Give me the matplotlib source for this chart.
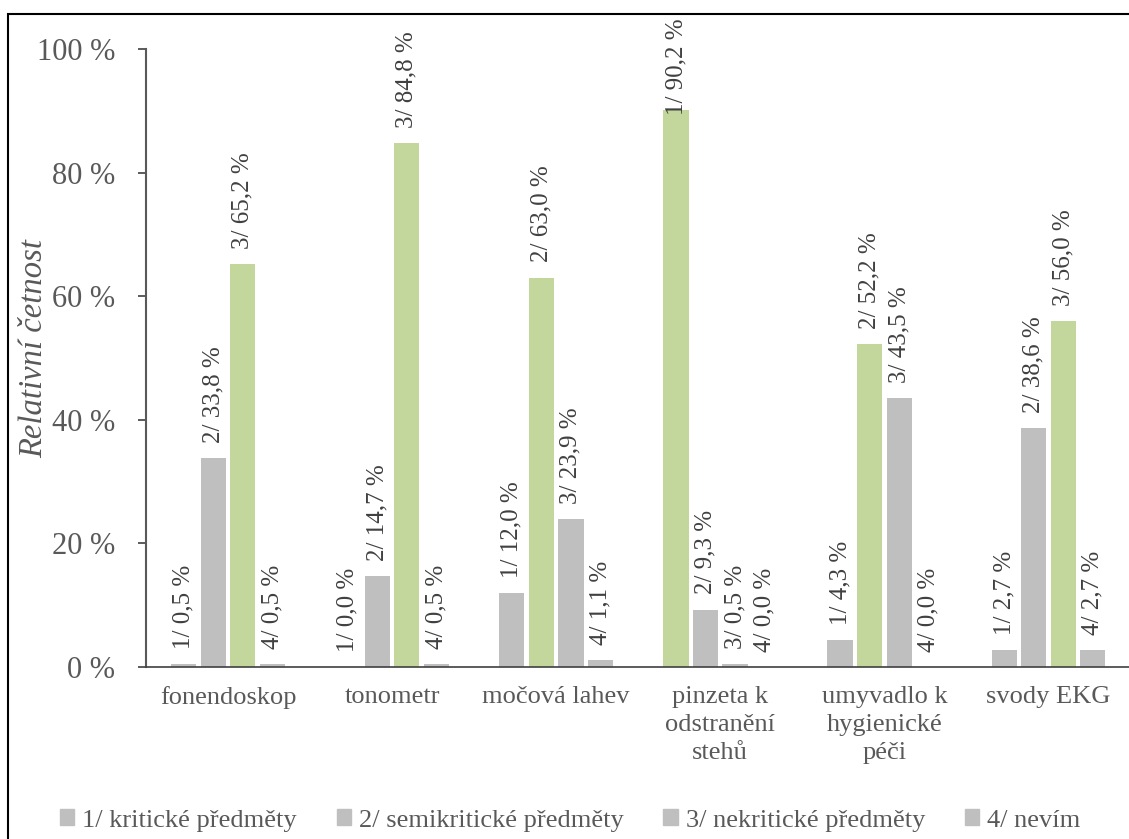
import matplotlib.pyplot as plt
import matplotlib.patches as mpatches
import numpy as np

# Pomůcky a podíly odpovědí (v %)
items = ['fonendoskop', 'tonometr', 'močová lahev',
         'pinzeta k\nodstranění\nstehů', 'umyvadlo k\nhygienické\npéči', 'svody EKG']
categories = ['1/ kritické předměty', '2/ semikritické předměty',
              '3/ nekritické předměty', '4/ nevím']
kriticke = [0.5, 0.0, 12.0, 90.2, 4.3, 2.7]
semikriticke = [33.8, 14.7, 63.0, 9.3, 52.2, 38.6]
nekriticke = [65.2, 84.8, 23.9, 0.5, 43.5, 56.0]
nevim = [0.5, 0.5, 1.1, 0.0, 0.0, 2.7]
yticks = [0, 20, 40, 60, 80, 100]

GRAY = '#bfbfbf'
GREEN = '#c3d69b'
TEXT = '#595959'
SERIF = 'Liberation Serif'

series = np.array([kriticke, semikriticke, nekriticke, nevim])

fig = plt.figure(figsize=(11.29, 8.39), dpi=100)
ax = fig.add_axes([0.1293, 0.205, 0.872, 0.7366])

x = np.arange(len(items))
slot = 0.18
for j in range(4):
    vals = series[j]
    pos = x + (j - 1.5) * slot
    best = series.argmax(axis=0) == j
    colors = [GREEN if b else GRAY for b in best]
    ax.bar(pos, vals, width=slot * 0.85, color=colors, zorder=2)
    for px, v in zip(pos, vals):
        txt = f'{j + 1}/ {v:.1f} %'.replace('.', ',')
        # vysoké popisky posunout dolů, aby zůstaly uvnitř rámečku
        off = 11 if v < 88 else -4
        ax.annotate(txt, (px, v), xytext=(0, off), textcoords='offset points',
                    rotation=90, ha='center', va='bottom', fontsize=18,
                    family=SERIF, color='#404040', annotation_clip=False, zorder=3)

ax.set_xlim(-0.5, len(items) - 0.5)
ax.set_ylim(0, 100)
ax.set_yticks(yticks)
ax.set_yticklabels([f'{t} %' for t in yticks], family=SERIF, fontsize=22, color=TEXT)
ax.set_xticks(x)
ax.set_xticklabels(items, family=SERIF, fontsize=19, color=TEXT, linespacing=1.35,
                   va='top')
ax.tick_params(axis='x', length=0, pad=14)
ax.tick_params(axis='y', length=6, width=1.2, color='#404040', pad=16)

for s in ['top', 'right']:
    ax.spines[s].set_visible(False)
ax.spines['left'].set_color('#595959')
ax.spines['left'].set_linewidth(1.5)
ax.spines['bottom'].set_color('#404040')
ax.spines['bottom'].set_linewidth(1.2)

fig.text(0.03, 0.585, 'Relativní četnost', rotation=90, ha='center', va='center',
         family=SERIF, style='italic', fontsize=23.5, color=TEXT)

handles = [mpatches.Patch(color=GRAY, label=c) for c in categories]
fig.legend(handles=handles, loc='center', bbox_to_anchor=(0.505, 0.022), ncol=4,
           frameon=False, prop={'family': SERIF, 'size': 19}, labelcolor=TEXT,
           handlelength=0.55, handleheight=0.55, handletextpad=0.3, columnspacing=1.5)

# rámeček kolem grafu
fig.patches.append(mpatches.Rectangle((0.0071, -0.2), 1.2, 0.2 + 0.9833,
                                      transform=fig.transFigure, fill=False,
                                      edgecolor='black', linewidth=1.5))

fig.savefig('out.png', dpi=100)
